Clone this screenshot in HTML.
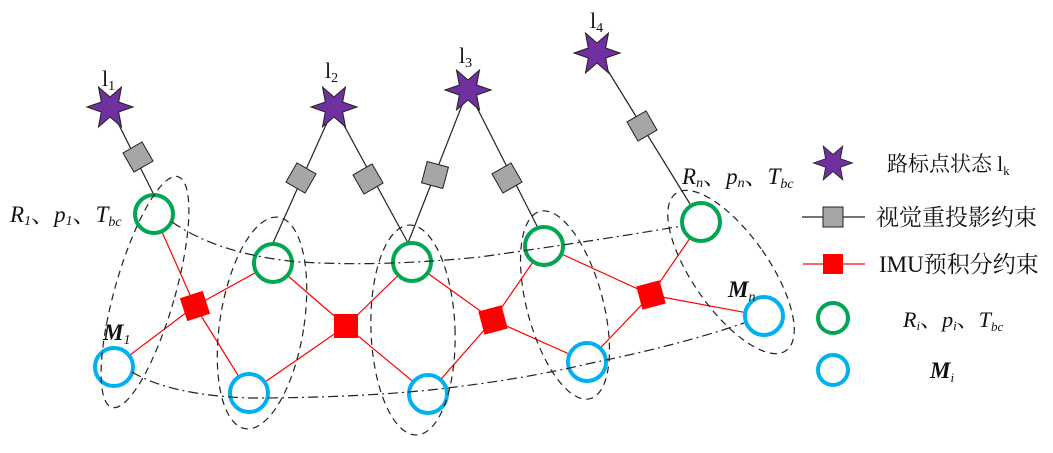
<!DOCTYPE html>
<html><head><meta charset="utf-8"><style>
html,body{margin:0;padding:0;background:#fff;}
svg{display:block}
text{font-family:"Liberation Serif","Noto Serif CJK SC",serif;fill:#111}
.it{font-style:italic}
</style></head><body>
<svg width="1053" height="453" viewBox="0 0 1053 453" xmlns="http://www.w3.org/2000/svg">
<defs>
<polygon id="star" points="23,0 8.66,5 11.5,19.9 0,10 -11.5,19.9 -8.66,5 -23,0 -8.66,-5 -11.5,-19.9 0,-10 11.5,-19.9 8.66,-5" fill="#7030a0" stroke="#222" stroke-width="1"/>
<rect id="gsq" x="-11" y="-11" width="22" height="22" fill="#a6a6a6" stroke="#222" stroke-width="1"/>
<rect id="rsq" x="-12" y="-12" width="24" height="24" fill="#ff0000"/>
</defs>
<!-- black landmark lines -->
<g stroke="#222" stroke-width="1.2">
<line x1="110" y1="107" x2="154" y2="195"/>
<line x1="334" y1="107" x2="273" y2="243"/>
<line x1="334" y1="107" x2="408" y2="243"/>
<line x1="468" y1="90" x2="408" y2="243"/>
<line x1="468" y1="90" x2="538" y2="228"/>
<line x1="597" y1="53" x2="690" y2="204"/>
</g>
<!-- red lines -->
<g stroke="#ff0000" stroke-width="1.2">
<line x1="154" y1="214" x2="195" y2="306"/><line x1="195" y1="306" x2="273" y2="263"/>
<line x1="195" y1="306" x2="114" y2="367"/><line x1="195" y1="306" x2="249" y2="393"/>
<line x1="273" y1="263" x2="346" y2="326"/><line x1="346" y1="326" x2="412" y2="262"/>
<line x1="346" y1="326" x2="249" y2="393"/><line x1="346" y1="326" x2="428" y2="394"/>
<line x1="412" y1="262" x2="493" y2="320"/><line x1="493" y1="320" x2="544" y2="246"/>
<line x1="493" y1="320" x2="428" y2="394"/><line x1="493" y1="320" x2="587" y2="362"/>
<line x1="544" y1="246" x2="651" y2="295"/><line x1="651" y1="295" x2="701" y2="222"/>
<line x1="651" y1="295" x2="587" y2="362"/><line x1="651" y1="295" x2="764" y2="316"/>
</g>
<!-- circles -->
<g fill="#fff" stroke="#00a651" stroke-width="4">
<circle cx="154" cy="214" r="19"/><circle cx="273" cy="263" r="19"/><circle cx="412" cy="262" r="19"/>
<circle cx="544" cy="246" r="19"/><circle cx="701" cy="222" r="19"/>
</g>
<g fill="#fff" stroke="#00b0f0" stroke-width="4">
<circle cx="114" cy="367" r="19"/><circle cx="249" cy="393" r="19"/><circle cx="428" cy="394" r="19"/>
<circle cx="587" cy="362" r="19"/><circle cx="764" cy="316" r="19"/>
</g>
<!-- dash-dot curves -->
<g fill="none" stroke="#222" stroke-width="1.2" stroke-dasharray="10,4,2,4">
<path d="M172,222 Q220,255 300,262 Q380,267 480,257 Q600,240 682,226"/>
<path d="M132,372 Q170,395 249,398 Q350,398 430,390 Q520,380 587,364 Q680,345 744,323"/>
</g>
<!-- ellipses -->
<g fill="none" stroke="#222" stroke-width="1.2" stroke-dasharray="7,5">
<ellipse cx="0" cy="0" rx="30" ry="120" transform="translate(145,292) rotate(16)"/>
<ellipse cx="0" cy="0" rx="42" ry="107" transform="translate(262,323) rotate(9)"/>
<ellipse cx="0" cy="0" rx="42" ry="105" transform="translate(413,330) rotate(-2)"/>
<ellipse cx="0" cy="0" rx="38" ry="97" transform="translate(565,305) rotate(-15)"/>
<ellipse cx="0" cy="0" rx="38" ry="96" transform="translate(731,272) rotate(-35)"/>
</g>
<!-- gray squares -->
<use href="#gsq" transform="translate(138,157) rotate(-30)"/>
<use href="#gsq" transform="translate(301,178) rotate(30)"/>
<use href="#gsq" transform="translate(368,179) rotate(-30)"/>
<use href="#gsq" transform="translate(435,175) rotate(15)"/>
<use href="#gsq" transform="translate(507,178) rotate(-30)"/>
<use href="#gsq" transform="translate(642,126) rotate(-30)"/>
<!-- red squares -->
<use href="#rsq" transform="translate(195,306) rotate(-18)"/>
<use href="#rsq" transform="translate(346,326)"/>
<use href="#rsq" transform="translate(493,320) rotate(-15)"/>
<use href="#rsq" transform="translate(651,295) rotate(-15)"/>
<!-- stars -->
<use href="#star" transform="translate(110,107)"/>
<use href="#star" transform="translate(334,107)"/>
<use href="#star" transform="translate(468,90)"/>
<use href="#star" transform="translate(597,53)"/>
<use href="#star" transform="translate(833,163) scale(0.85)"/>
<!-- labels -->
<g font-size="22">
<text x="102" y="86">l<tspan font-size="14" dy="4">1</tspan></text>
<text x="325" y="78">l<tspan font-size="14" dy="4">2</tspan></text>
<text x="459" y="63">l<tspan font-size="14" dy="4">3</tspan></text>
<text x="590" y="28">l<tspan font-size="14" dy="4">4</tspan></text>
</g>
<text x="10" y="222" font-size="23" class="it">R<tspan font-size="14" dy="3">1</tspan><tspan dy="-3" font-style="normal">、</tspan>p<tspan font-size="14" dy="3">1</tspan><tspan dy="-3" font-style="normal">、</tspan>T<tspan font-size="14" dy="4">bc</tspan></text>
<text x="103" y="340" font-size="23" class="it" font-weight="bold">M<tspan font-size="14" dy="4" font-weight="normal">1</tspan></text>
<text x="682" y="184" font-size="23" class="it">R<tspan font-size="14" dy="3">n</tspan><tspan dy="-3" font-style="normal">、</tspan>p<tspan font-size="14" dy="3">n</tspan><tspan dy="-3" font-style="normal">、</tspan>T<tspan font-size="14" dy="4">bc</tspan></text>
<text x="728" y="297" font-size="23" class="it" font-weight="bold">M<tspan font-size="14" dy="4" font-weight="normal">n</tspan></text>
<!-- legend -->
<line x1="802" y1="217" x2="865" y2="217" stroke="#222" stroke-width="1.2"/>
<rect x="823" y="207" width="20" height="20" fill="#a6a6a6" stroke="#222" stroke-width="1"/>
<line x1="803" y1="264" x2="865" y2="264" stroke="#ff0000" stroke-width="1.2"/>
<rect x="823" y="254" width="20" height="20" fill="#ff0000"/>
<circle cx="833" cy="318" r="15" fill="none" stroke="#00a651" stroke-width="4"/>
<circle cx="833" cy="370" r="15" fill="none" stroke="#00b0f0" stroke-width="4"/>
<text x="887" y="171" font-size="21">路标点状态 l<tspan font-size="13" dy="4">k</tspan></text>
<text x="876" y="225" font-size="23">视觉重投影约束</text>
<text x="879" y="272" font-size="23">IMU预积分约束</text>
<text x="903" y="327" font-size="22" class="it">R<tspan font-size="13" dy="3">i</tspan><tspan dy="-3" font-style="normal">、</tspan>p<tspan font-size="13" dy="3">i</tspan><tspan dy="-3" font-style="normal">、</tspan>T<tspan font-size="13" dy="4">bc</tspan></text>
<text x="930" y="378" font-size="23" class="it" font-weight="bold">M<tspan font-size="13" dy="4" font-weight="normal">i</tspan></text>
</svg>
</body></html>
